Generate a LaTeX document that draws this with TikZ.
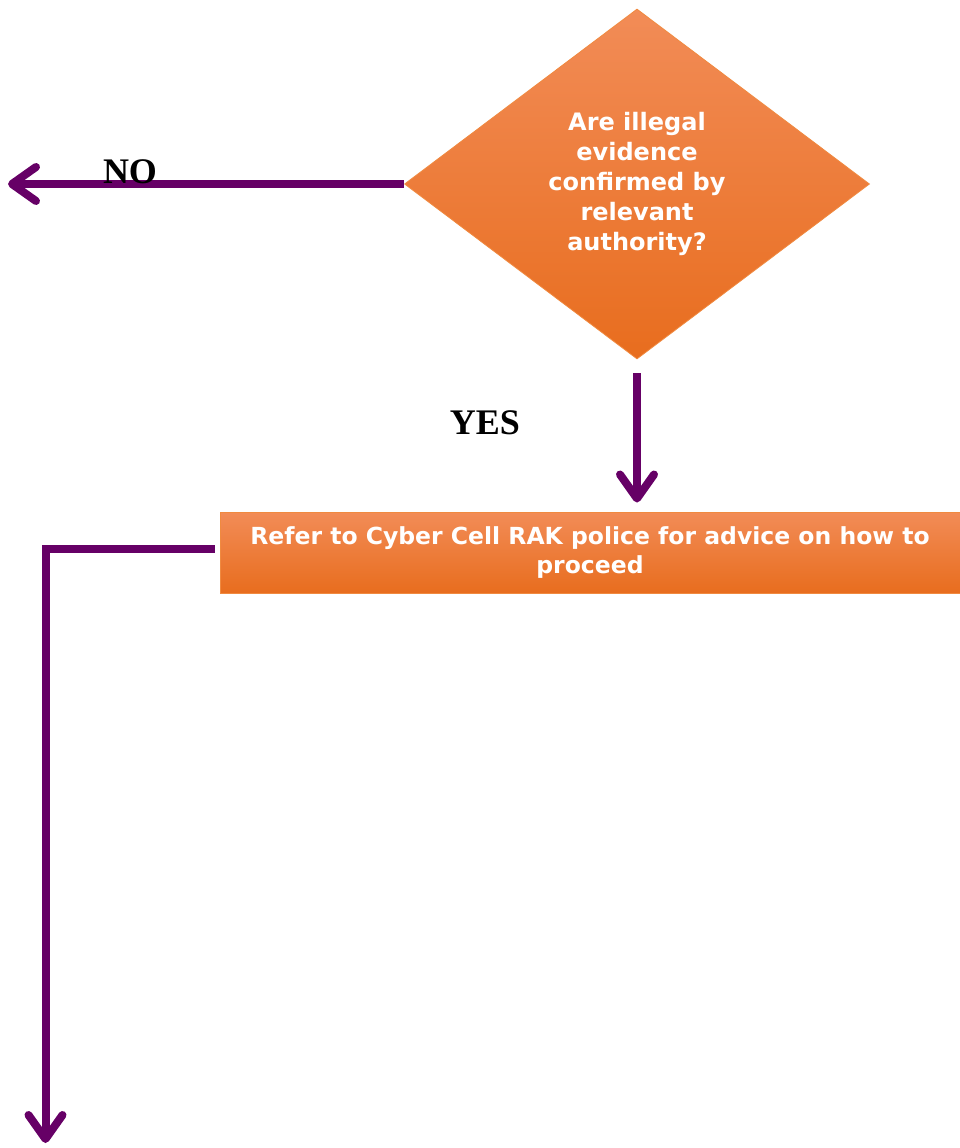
\documentclass[tikz,border=0pt]{standalone}
\usepackage{fontspec}
\setmainfont{Liberation Serif}
\newfontfamily\boxfont{DejaVu Sans Bold}
\usetikzlibrary{shapes.geometric,arrows.meta}
\definecolor{flowpurple}{HTML}{660066}
\definecolor{orangetop}{HTML}{F28C57}
\definecolor{orangebot}{HTML}{E86D1E}
\definecolor{orangeline}{HTML}{F08A40}
\begin{document}
\begin{tikzpicture}[x=1pt, y=-1pt,
    decision/.style={diamond, draw=orangeline, line width=0.8pt, top color=orangetop, bottom color=orangebot, inner sep=0pt, minimum width=465pt, minimum height=350pt, text=white, align=center, font=\boxfont\fontsize{24}{30}\selectfont},
    process/.style={rectangle, draw=orangeline, line width=1pt, top color=orangetop, bottom color=orangebot, minimum width=740pt, minimum height=81pt, text=white, align=center, font=\boxfont\fontsize{23.5}{29}\selectfont},
    flow/.style={draw=flowpurple, line width=8pt, -{Straight Barb[length=24pt,width=34pt,round]}},
    answer/.style={font=\bfseries\fontsize{36}{36}\selectfont}]
    \useasboundingbox (0,0) rectangle (960,1148);
    \node[decision] (dia) at (637,184) {Are illegal\\evidence\\confirmed by\\relevant\\authority?};
    \node[process] (box) at (590,552.5) {Refer to Cyber Cell RAK police for advice on how to\\proceed};
    \coordinate (noend) at (8,184);
    \coordinate (downend) at (45.5,1143);

    \draw[flow] (dia.west) -- (noend);
    \draw[flow] ([yshift=-14pt]dia.south) -- ([yshift=9pt]dia.south |- box.north);
    \draw[flow] ([xshift=-5pt,yshift=3.5pt]box.west) -| (downend);

    \node[answer] (no) at (130,172) {NO};
    \node[answer] (yes) at (485,423) {YES};
\end{tikzpicture}
\end{document}
